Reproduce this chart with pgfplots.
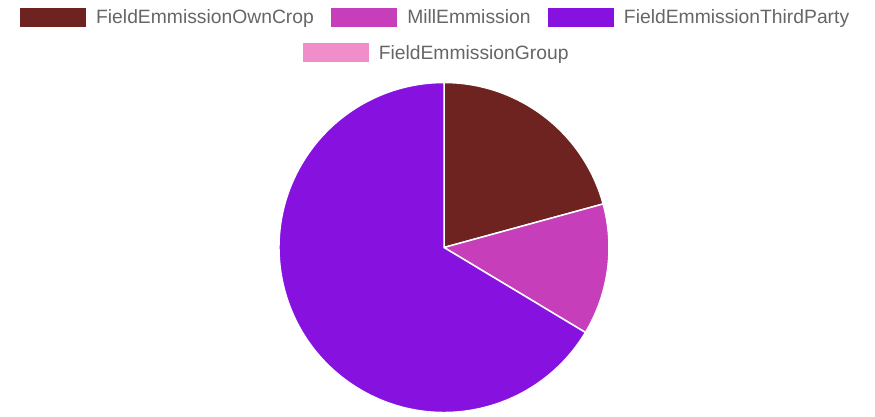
\documentclass[border=0pt]{standalone}
\usepackage{fontspec}
\setmainfont{Liberation Sans}
\usepackage{pgfplots}
\usepackage{pgfplotstable}
\pgfplotsset{compat=1.18}

\definecolor{owncrop}{RGB}{110,35,32}
\definecolor{mill}{RGB}{198,62,186}
\definecolor{thirdparty}{RGB}{135,18,224}
\definecolor{group}{RGB}{242,141,203}
\definecolor{legtext}{RGB}{102,102,102}

% share of each source, in percent
\pgfplotstableread{
source value
FieldEmmissionOwnCrop 20.75
MillEmmission 12.86
FieldEmmissionThirdParty 66.39
FieldEmmissionGroup 0
}\piedata

\pgfplotstablegetelem{0}{value}\of\piedata \let\vA\pgfplotsretval
\pgfplotstablegetelem{1}{value}\of\piedata \let\vB\pgfplotsretval
\pgfplotstablegetelem{2}{value}\of\piedata \let\vC\pgfplotsretval
\pgfmathsetmacro\aA{90-3.6*\vA}
\pgfmathsetmacro\aB{\aA-3.6*\vB}
\pgfmathsetmacro\aC{\aB-3.6*\vC}

\pgfplotsset{
  piebase/.style={
    x=1bp, y=1bp, scale only axis,
    xmin=0, xmax=875, ymin=0, ymax=417,
    hide axis, clip=false,
    at={(0,0)}, anchor=south west,
    legend image code/.code={
      \path (-17bp,0bp) (76bp,0bp);
      \fill[##1, draw=none] (0bp,-9.5bp) rectangle (66bp,9.5bp);
    },
    legend style={draw=none, fill=none, inner sep=0pt,
      font=\fontsize{19.3bp}{23bp}\selectfont, text=legtext,
      nodes={inner xsep=0pt, inner ysep=1bp}},
  },
}

\begin{document}
\begin{tikzpicture}
\useasboundingbox (0,0) rectangle (875bp,417bp);
\begin{axis}[piebase, legend columns=3,
  legend style={at={(axis cs:426,399.5)}, anchor=center}]
  \addlegendimage{fill=owncrop}
  \addlegendentry{FieldEmmissionOwnCrop}
  \addlegendimage{fill=mill}
  \addlegendentry{MillEmmission}
  \addlegendimage{fill=thirdparty}
  \addlegendentry{FieldEmmissionThirdParty}
  \fill[owncrop, draw=white, line width=1.5bp] (axis cs:444,169.5) -- ++(90:165bp)
    arc[start angle=90, end angle=\aA, radius=165bp] -- cycle;
  \fill[mill, draw=white, line width=1.5bp] (axis cs:444,169.5) -- ++(\aA:165bp)
    arc[start angle=\aA, end angle=\aB, radius=165bp] -- cycle;
  \fill[thirdparty, draw=white, line width=1.5bp] (axis cs:444,169.5) -- ++(\aB:165bp)
    arc[start angle=\aB, end angle=\aC, radius=165bp] -- cycle;
\end{axis}
\begin{axis}[piebase,
  legend style={at={(axis cs:427,364)}, anchor=center}]
  \addlegendimage{fill=group}
  \addlegendentry{FieldEmmissionGroup}
\end{axis}
\end{tikzpicture}
\end{document}
